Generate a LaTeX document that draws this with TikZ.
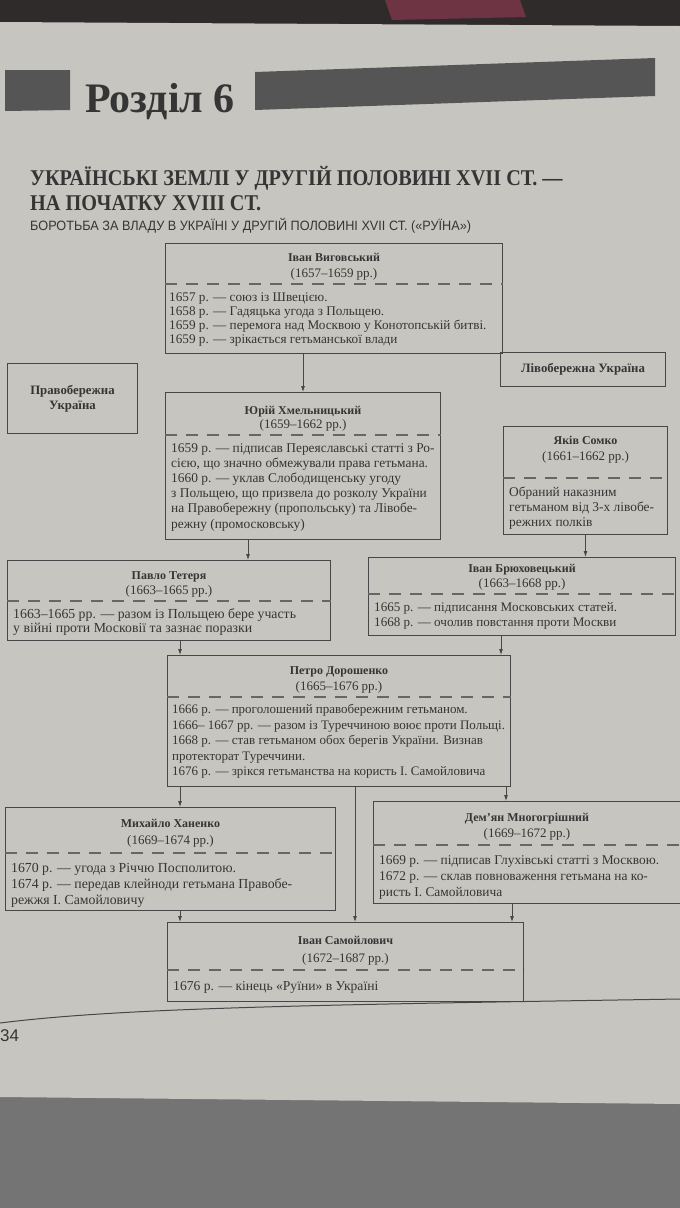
\documentclass[tikz,border=0pt]{standalone}
\usepackage{fontspec}
\setmainfont{Liberation Serif}
\setsansfont{Liberation Sans}
\newfontfamily\headserif[FakeStretch=0.9]{Liberation Serif}
\newfontfamily\condsans[FakeStretch=0.94]{Liberation Sans}
\usetikzlibrary{arrows.meta, positioning}
\definecolor{paper}{HTML}{C7C5BF}
\definecolor{floorc}{HTML}{747474}
\definecolor{topc}{HTML}{2F2B2B}
\definecolor{clothc}{HTML}{6E3444}
\definecolor{barc}{HTML}{555555}
\definecolor{ink}{HTML}{353535}
\definecolor{linec}{HTML}{474747}
\definecolor{sepc}{HTML}{666666}

\begin{document}
\begin{tikzpicture}[
        x=1pt, y=-1pt,
        box/.style={draw=linec, line width=1pt, anchor=north west, inner sep=0pt},
        side/.style={draw=linec, line width=1pt, anchor=north west, align=center, text=ink, font=\bfseries\fontsize{12.8}{15}\selectfont},
        head/.style={anchor=north, align=center, inner sep=0pt, text=ink, font=\fontsize{13}{16}\selectfont},
        body/.style={anchor=north west, align=left, inner sep=0pt, text=ink, font=\fontsize{13.4}{15}\selectfont},
        sep/.style={draw=sepc, line width=1.1pt, dash pattern=on 12pt off 9pt},
        arr/.style={draw=linec, line width=0.8pt, -{Latex[length=6pt, width=4pt]}}
    ]
        \useasboundingbox (0,0) rectangle (680,1208);

        % Page
        \fill[floorc] (0,0) rectangle (680,1208);
        \fill[topc] (0,0) rectangle (680,26);
        \fill[clothc] (385,0) -- (520,0) -- (526,17) -- (392,20) -- cycle;
        \fill[paper] (0,22) -- (680,26) -- (680,1104) -- (0,1097) -- cycle;
        \fill[barc] (5,70) -- (70,70) -- (70,110) -- (5,111) -- cycle;
        \fill[barc] (255,72) -- (655,58) -- (655,96) -- (255,110) -- cycle;
        \draw[linec, line width=1pt] (0,1023) .. controls (120,1008) and (300,1005) .. (680,999);

        % Headings
        \node[anchor=base west, inner sep=0pt, text=ink, font=\bfseries\fontsize{42}{42}\selectfont] (chapter) at (85,112) {Розділ 6};
        \node[anchor=west, inner sep=0pt, align=left, text=ink, font=\headserif\bfseries\fontsize{22.5}{25}\selectfont] (topic) at (30,189) {УКРАЇНСЬКІ ЗЕМЛІ У ДРУГІЙ ПОЛОВИНІ XVII СТ. —\\НА ПОЧАТКУ XVIII СТ.};
        \node[anchor=west, inner sep=0pt, text=ink, font=\condsans\fontsize{13.5}{14}\selectfont] (subtopic) at (30,226) {БОРОТЬБА ЗА ВЛАДУ В УКРАЇНІ У ДРУГІЙ ПОЛОВИНІ XVII СТ. («РУЇНА»)};

        % Side labels
        \node[side, minimum width=130, minimum height=70] (right) at (7,363) {Правобережна\\Україна};
        \node[side, minimum width=165, minimum height=34] (left) at (500,352) {Лівобережна Україна};

        % Boxes
        \node[box, minimum width=337, minimum height=110] (vyh) at (165,243) {};
        \node[head] (vyhT) at ([yshift=-10]vyh.north) {{\bfseries\fontsize{12}{16}\selectfont Іван Виговський}\\(1657–1659 рр.)};
        \draw[sep] ([yshift=-41]vyh.north west) -- ([yshift=-41]vyh.north east);
        \node[body, font=\fontsize{13.2}{14}\selectfont] (vyhB) at ([xshift=4, yshift=-50]vyh.north west) {1657 р. — союз із Швецією.\\1658 р. — Гадяцька угода з Польщею.\\1659 р. — перемога над Москвою у Конотопській битві.\\1659 р. — зрікається гетьманської влади};

        \node[box, minimum width=275, minimum height=147] (khm) at (165,392) {};
        \node[head, font=\fontsize{13}{14}\selectfont] (khmT) at ([yshift=-14]khm.north) {{\bfseries\fontsize{12}{14}\selectfont Юрій Хмельницький}\\(1659–1662 рр.)};
        \draw[sep] ([yshift=-43]khm.north west) -- ([yshift=-43]khm.north east);
        \node[body, font=\fontsize{13.4}{15.2}\selectfont] (khmB) at ([xshift=6, yshift=-51]khm.north west) {1659 р. — підписав Переяславські статті з Ро-\\сією, що значно обмежували права гетьмана.\\1660 р. — уклав Слободищенську угоду\\з Польщею, що призвела до розколу України\\на Правобережну (пропольську) та Лівобе-\\режну (промосковську)};

        \node[box, minimum width=164, minimum height=108] (somko) at (503,426) {};
        \node[head] (somkoT) at ([yshift=-10]somko.north) {{\bfseries\fontsize{12}{16}\selectfont Яків Сомко}\\(1661–1662 рр.)};
        \draw[sep] ([yshift=-52]somko.north west) -- ([yshift=-52]somko.north east);
        \node[body] (somkoB) at ([xshift=6, yshift=-61]somko.north west) {Обраний наказним\\гетьманом від 3-х лівобе-\\режних полків};

        \node[box, minimum width=323, minimum height=80] (tet) at (7,560) {};
        \node[head, font=\fontsize{13}{15}\selectfont] (tetT) at ([yshift=-11]tet.north) {{\bfseries\fontsize{12}{15}\selectfont Павло Тетеря}\\(1663–1665 рр.)};
        \draw[sep] ([yshift=-41]tet.north west) -- ([yshift=-41]tet.north east);
        \node[body, font=\fontsize{13.8}{14}\selectfont] (tetB) at ([xshift=6, yshift=-48]tet.north west) {1663–1665 рр. — разом із Польщею бере участь\\у війні проти Московії та зазнає поразки};

        \node[box, minimum width=307, minimum height=78] (bry) at (368,557) {};
        \node[head, font=\fontsize{13}{15}\selectfont] (bryT) at ([yshift=-7]bry.north) {{\bfseries\fontsize{12}{15}\selectfont Іван Брюховецький}\\(1663–1668 рр.)};
        \draw[sep] ([yshift=-37]bry.north west) -- ([yshift=-37]bry.north east);
        \node[body, font=\fontsize{13.1}{15}\selectfont] (bryB) at ([xshift=6, yshift=-45]bry.north west) {1665 р. — підписання Московських статей.\\1668 р. — очолив повстання проти Москви};

        \node[box, minimum width=343, minimum height=131] (dor) at (167,655) {};
        \node[head] (dorT) at ([yshift=-11]dor.north) {{\bfseries\fontsize{12}{16}\selectfont Петро Дорошенко}\\(1665–1676 рр.)};
        \draw[sep] ([yshift=-42]dor.north west) -- ([yshift=-42]dor.north east);
        \node[body, font=\fontsize{13}{15.5}\selectfont] (dorB) at ([xshift=5, yshift=-49]dor.north west) {1666 р. — проголошений правобережним гетьманом.\\1666– 1667 рр. — разом із Туреччиною воює проти Польщі.\\1668 р. — став гетьманом обох берегів України. Визнав\\протекторат Туреччини.\\1676 р. — зрікся гетьманства на користь І. Самойловича};

        \node[box, minimum width=330, minimum height=103] (khan) at (5,807) {};
        \node[head, font=\fontsize{13}{17}\selectfont] (khanT) at ([yshift=-12]khan.north) {{\bfseries\fontsize{12}{17}\selectfont Михайло Ханенко}\\(1669–1674 рр.)};
        \draw[sep] ([yshift=-46]khan.north west) -- ([yshift=-46]khan.north east);
        \node[body, font=\fontsize{13.8}{16}\selectfont] (khanB) at ([xshift=6, yshift=-56]khan.north west) {1670 р. — угода з Річчю Посполитою.\\1674 р. — передав клейноди гетьмана Правобе-\\режжя І. Самойловичу};

        \node[box, minimum width=307, minimum height=102] (mno) at (373,801) {};
        \node[head] (mnoT) at ([yshift=-12]mno.north) {{\bfseries\fontsize{12}{16}\selectfont Дем’ян Многогрішний}\\(1669–1672 рр.)};
        \draw[sep] ([yshift=-44]mno.north west) -- ([yshift=-44]mno.north east);
        \node[body, font=\fontsize{13.4}{16}\selectfont] (mnoB) at ([xshift=6, yshift=-54]mno.north west) {1669 р. — підписав Глухівські статті з Москвою.\\1672 р. — склав повноваження гетьмана на ко-\\ристь І. Самойловича};

        \node[box, minimum width=356, minimum height=79] (sam) at (167,922) {};
        \node[head, font=\fontsize{13}{18}\selectfont] (samT) at ([yshift=-14]sam.north) {{\bfseries\fontsize{12}{18}\selectfont Іван Самойлович}\\(1672–1687 рр.)};
        \draw[sep] ([yshift=-48]sam.north west) -- ([yshift=-48]sam.north east);
        \node[body, font=\fontsize{13.6}{15}\selectfont] (samB) at ([xshift=6, yshift=-59]sam.north west) {1676 р. — кінець «Руїни» в Україні};

        \node[anchor=west, inner sep=0pt, text=ink, font=\sffamily\fontsize{17}{17}\selectfont] (pagenum) at (0,1036) {34};

        % Arrows
        \draw[arr] (vyh.south -| khm.north) -- (khm.north);
        \coordinate (k1) at ([xshift=83]khm.south west);
        \draw[arr] (k1) -- (k1 |- tet.north);
        \draw[arr] (somko.south) -- (somko.south |- bry.north);
        \coordinate (d1) at ([xshift=13]dor.north west);
        \draw[arr] (d1 |- tet.south) -- (d1);
        \coordinate (d2) at ([xshift=-10]dor.north east);
        \draw[arr] (d2 |- bry.south) -- (d2);
        \coordinate (d3) at ([xshift=13]dor.south west);
        \draw[arr] (d3) -- (d3 |- khan.north);
        \coordinate (d4) at ([xshift=188]dor.south west);
        \draw[arr] (d4) -- (d4 |- sam.north);
        \coordinate (d5) at ([xshift=-5]dor.south east);
        \draw[arr] (d5) -- (d5 |- mno.north);
        \coordinate (s1) at ([xshift=13]sam.north west);
        \draw[arr] (s1 |- khan.south) -- (s1);
        \coordinate (s2) at ([xshift=-12]sam.north east);
        \draw[arr] (s2 |- mno.south) -- (s2);

    \end{tikzpicture}
\end{document}
